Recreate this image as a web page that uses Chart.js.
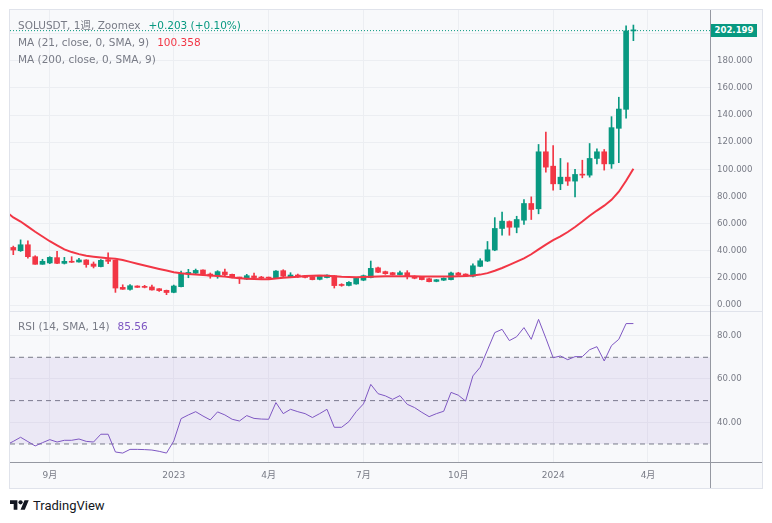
<!DOCTYPE html>
<html><head><meta charset="utf-8">
<script src="https://cdn.jsdelivr.net/npm/chart.js@4.4.1/dist/chart.umd.min.js"></script>
<style>
html,body{margin:0;padding:0;background:#fff;width:772px;height:523px;overflow:hidden;font-family:"DejaVu Sans","Noto Sans CJK JP",sans-serif;}
.abs{position:absolute;}
#frame{left:9px;top:9px;width:752px;height:478px;border:1px solid #E0E3EB;background:#F8F9FB;}
canvas{position:absolute;left:10px;}
.leg{position:absolute;left:18px;font-size:10.5px;line-height:14px;color:#787B86;white-space:nowrap;}
.leg .v{margin-left:8px;}
#badge{left:711px;top:24px;width:46px;height:13px;background:#089981;color:#fff;font-size:8.6px;font-weight:bold;line-height:13px;text-align:center;}
#tv{left:10px;top:497px;height:16px;display:flex;align-items:center;gap:4px;}
</style></head>
<body>
<div id="frame" class="abs"></div>
<canvas id="price" width="752" height="301" style="top:10px;width:752px;height:301px"></canvas>
<canvas id="rsi" width="752" height="176" style="top:312px;width:752px;height:176px"></canvas>
<div class="abs" style="left:10px;top:311px;width:752px;height:1px;background:#E0E3EB"></div>
<div class="abs" style="left:10px;top:462px;width:752px;height:1px;background:#9598A1"></div>
<div class="abs" style="left:710px;top:10px;width:1px;height:478px;background:#9598A1"></div>
<div class="leg" style="top:18px"><span>SOLUSDT, 1週, Zoomex</span><span class="v" id="chg" style="color:#089981"></span></div>
<div class="leg" style="top:35px"><span>MA (21, close, 0, SMA, 9)</span><span class="v" id="maVal" style="color:#F23645"></span></div>
<div class="leg" style="top:52px"><span>MA (200, close, 0, SMA, 9)</span></div>
<div class="leg" style="top:319px"><span>RSI (14, SMA, 14)</span><span class="v" id="rsiVal" style="color:#7E57C2"></span></div>
<div id="badge" class="abs"></div>
<div id="tv" class="abs"><svg width="19" height="14" viewBox="0 0 36 26"><path fill="#131722" d="M14 22H7V11H0V4h14v18zM28 22h-8l7.5-18h8L28 22z"/><circle fill="#131722" cx="20" cy="8" r="4"/></svg><span style="font:13px Roboto,sans-serif;color:#131722">TradingView</span></div>
<script>
// ---- data (weekly SOLUSDT) ----
const weeks = [
 '2022-07-25','2022-08-01','2022-08-08','2022-08-15','2022-08-22','2022-08-29','2022-09-05','2022-09-12','2022-09-19','2022-09-26',
 '2022-10-03','2022-10-10','2022-10-17','2022-10-24','2022-10-31','2022-11-07','2022-11-14','2022-11-21','2022-11-28','2022-12-05',
 '2022-12-12','2022-12-19','2022-12-26','2023-01-02','2023-01-09','2023-01-16','2023-01-23','2023-01-30','2023-02-06','2023-02-13',
 '2023-02-20','2023-02-27','2023-03-06','2023-03-13','2023-03-20','2023-03-27','2023-04-03','2023-04-10','2023-04-17','2023-04-24',
 '2023-05-01','2023-05-08','2023-05-15','2023-05-22','2023-05-29','2023-06-05','2023-06-12','2023-06-19','2023-06-26','2023-07-03',
 '2023-07-10','2023-07-17','2023-07-24','2023-07-31','2023-08-07','2023-08-14','2023-08-21','2023-08-28','2023-09-04','2023-09-11',
 '2023-09-18','2023-09-25','2023-10-02','2023-10-09','2023-10-16','2023-10-23','2023-10-30','2023-11-06','2023-11-13','2023-11-20',
 '2023-11-27','2023-12-04','2023-12-11','2023-12-18','2023-12-25','2024-01-01','2024-01-08','2024-01-15','2024-01-22','2024-01-29',
 '2024-02-05','2024-02-12','2024-02-19','2024-02-26','2024-03-04','2024-03-11','2024-03-18'];
const open = [null,
 42.4,40.0,44.4,35.6,30.0,31.0,34.9,30.7,32.0,31.7,
 33.2,30.2,28.3,33.4,32.9,13.0,11.5,14.0,13.5,13.3,
 12.0,10.8,9.3,13.5,22.8,23.5,25.8,22.8,21.4,24.3,
 22.6,20.4,19.2,21.4,20.6,20.2,19.8,25.3,20.8,22.1,
 21.4,20.9,18.9,20.2,21.5,15.0,14.4,15.5,18.3,20.2,
 27.4,24.6,23.8,22.4,23.8,21.1,20.8,19.4,17.4,18.3,
 18.7,23.6,22.8,21.2,28.5,32.4,40.5,56.4,61.5,57.3,
 62.5,74.8,70.9,112.9,102.3,89.3,94.2,91.3,96.4,95.7,
 108.0,112.9,104.0,130.2,144.2,202.0];
const high = [null,
 43.4,48.0,47.3,36.3,33.7,35.6,39.5,35.1,35.6,34.4,
 33.4,31.7,33.4,38.5,33.2,14.9,15.0,14.2,14.5,14.7,
 12.1,11.0,14.7,25.0,26.3,26.5,26.0,23.6,25.3,26.5,
 22.8,20.5,22.6,23.6,21.1,20.6,25.3,26.0,23.8,22.8,
 21.8,21.0,21.8,22.3,21.8,15.7,17.2,20.4,22.1,32.4,
 28.0,25.0,24.1,25.0,25.3,21.5,21.0,19.9,18.8,20.0,
 24.3,24.1,23.0,30.3,34.1,46.8,64.4,68.4,62.0,65.4,
 77.7,79.7,118.3,127.4,117.5,108.0,104.8,99.9,106.7,119.0,
 115.1,114.6,138.8,153.1,205.8,206.3];
const low = [null,
 37.1,39.5,34.6,30.0,30.0,30.5,30.5,30.2,31.3,31.5,
 27.8,27.3,28.0,30.5,9.3,11.5,11.0,12.9,12.6,11.0,
 10.0,7.6,9.0,13.4,20.1,22.8,22.3,19.7,19.7,21.4,
 20.0,15.8,18.7,20.0,19.3,19.0,19.7,20.9,20.1,20.3,
 20.0,18.5,18.5,20.0,12.5,13.8,14.0,15.3,17.9,20.0,
 23.8,22.6,22.1,22.1,19.2,19.3,18.5,17.0,17.1,18.0,
 18.5,21.8,21.0,20.7,28.2,32.0,40.0,51.4,51.4,53.2,
 59.3,63.0,67.2,97.9,84.6,85.0,88.1,79.7,93.7,94.2,
 104.0,99.4,100.7,104.9,137.6,194.8];
const close = [null,
 40.5,44.4,35.6,30.0,32.2,35.1,30.7,32.2,31.5,33.2,
 29.8,28.5,32.9,32.2,12.5,11.6,14.2,13.0,13.0,11.1,
 10.6,9.2,14.0,23.3,24.0,25.5,22.6,21.4,24.6,22.4,
 20.1,19.9,21.6,20.2,19.8,19.8,25.0,21.2,22.1,20.8,
 20.3,18.7,21.5,22.0,14.3,14.4,16.7,19.6,21.6,27.0,
 24.1,23.1,22.4,23.8,20.9,19.7,18.7,17.2,18.6,19.7,
 23.6,22.1,21.2,28.9,32.6,40.7,56.4,61.8,57.3,63.0,
 74.8,70.4,112.9,101.6,89.3,94.2,91.3,96.2,95.7,108.0,
 112.9,104.0,130.7,144.4,201.996,202.199];
const ma21 = [69.0,
 64.5,61.5,57.8,54.0,50.5,47.0,44.0,41.0,39.0,37.5,
 36.3,35.6,35.0,34.5,34.0,33.2,31.8,30.4,29.1,27.8,
 26.6,25.4,24.2,23.4,22.8,22.4,22.1,21.8,21.4,21.0,
 20.3,19.7,19.4,19.1,18.9,19.0,19.6,20.1,20.5,20.9,
 21.3,21.6,21.7,21.6,21.2,20.8,20.6,20.5,20.6,20.8,
 21.0,21.1,21.1,21.1,21.1,21.1,21.0,21.0,21.0,21.0,
 21.0,21.1,21.3,21.7,22.4,23.5,25.2,27.3,29.6,32.0,
 34.4,37.4,41.0,44.5,47.8,50.5,53.8,57.5,61.5,65.8,
 69.6,73.2,77.5,83.5,91.5,100.358];
const rsi14 = [29.5,
 31.2,33.1,31.1,29.1,30.6,32.0,30.9,31.7,31.7,32.3,
 31.2,30.9,34.5,34.5,26.3,25.8,27.5,27.5,27.4,27.2,
 26.6,25.8,31.4,41.7,43.4,44.9,42.9,41.1,44.8,43.4,
 41.4,40.6,43.1,41.8,41.5,41.4,49.1,44.0,46.0,44.9,
 44.0,42.2,44.0,46.0,37.7,37.7,40.3,44.9,48.5,57.5,
 53.2,52.2,50.6,52.3,48.3,46.8,44.6,42.6,44.0,45.1,
 53.8,52.5,49.8,61.4,65.4,73.4,81.4,82.9,77.7,79.5,
 83.7,78.3,87.5,78.8,69.8,70.6,68.9,70.3,70.3,73.5,
 74.9,68.3,75.4,78.3,85.56,85.56];
const priceTicks = [0,20,40,60,80,100,120,140,160,180,200];
const rsiTicks = [40,60,80];
const rsiLevels = [70,50,30];
const timeTickDates = ['2022-09-05','2023-01-02','2023-04-03','2023-07-03','2023-10-02','2024-01-01','2024-04-01'];
const timeTickLabels = ['9月','2023','4月','7月','10月','2024','4月'];

// ---- build ----
const UP='#089981', DN='#F23645', PURPLE='#7E57C2', GRID='#ECEEF2', TXT='#787B86';
const X_MIN=0.548, X_MAX=96.5;
Chart.defaults.font.family='"DejaVu Sans","Noto Sans CJK JP",sans-serif';
const t0=Date.parse(weeks[0]);
const wk=d=>(Date.parse(d)-t0)/(7*86400000);
const xIdx=weeks.map(wk);
const tickPos=timeTickDates.map(wk);
const candles=xIdx.map((x,i)=>open[i]==null?null:{x,o:open[i],h:high[i],l:low[i],c:close[i]}).filter(Boolean);
const bodyData=candles.map(k=>({x:k.x,y:[k.o,k.c],up:k.c>=k.o}));
const wickData=candles.map(k=>({x:k.x,y:[k.l,k.h],up:k.c>=k.o}));
const maData=xIdx.map((x,i)=>({x,y:ma21[i]}));
const rsiData=xIdx.map((x,i)=>({x,y:rsi14[i]}));
const n=close.length;
const last=close[n-1], prev=close[n-2];
document.getElementById('chg').textContent=(last-prev>=0?'+':'')+(last-prev).toFixed(3)+' ('+(last-prev>=0?'+':'')+((last-prev)/prev*100).toFixed(2)+'%)';
document.getElementById('maVal').textContent=ma21[ma21.length-1].toFixed(3);
document.getElementById('rsiVal').textContent=rsi14[rsi14.length-1].toFixed(2);
document.getElementById('badge').textContent=last.toFixed(3);
const colorOf=c=>c.raw&&c.raw.up?UP:DN;

const common={responsive:false,animation:false,devicePixelRatio:1,events:[],layout:{padding:0},
  plugins:{legend:{display:false},tooltip:{enabled:false}}};

new Chart(document.getElementById('price'),{
  type:'bar',
  data:{datasets:[
    {type:'line',data:maData,borderColor:DN,borderWidth:2,pointRadius:0,order:0},
    {type:'bar',data:bodyData,backgroundColor:colorOf,barThickness:5,minBarLength:1,grouped:false,order:1},
    {type:'bar',data:wickData,backgroundColor:colorOf,barThickness:1,minBarLength:1,grouped:false,order:2},
    {type:'line',data:[{x:X_MIN,y:last},{x:X_MAX,y:last}],borderColor:UP,borderWidth:1,borderDash:[1,2],pointRadius:0,order:3}
  ]},
  options:Object.assign({},common,{scales:{
    x:{type:'linear',min:X_MIN,max:X_MAX,bounds:'data',offset:false,
       grid:{color:GRID,offset:false,drawTicks:false},border:{display:false},ticks:{display:false},
       afterBuildTicks:s=>{s.ticks=tickPos.map(v=>({value:v}));},
       afterFit:s=>{s.height=0;s.paddingLeft=0;s.paddingRight=0;}},
    y:{type:'linear',position:'right',min:-4.42,max:217.39,bounds:'data',
       grid:{color:GRID,drawTicks:false},border:{display:false},
       ticks:{padding:7,color:TXT,font:{size:8.6},callback:v=>v===200?'':Number(v).toFixed(3)},
       afterBuildTicks:s=>{s.ticks=priceTicks.map(v=>({value:v}));},
       afterFit:s=>{s.width=52;s.paddingTop=0;s.paddingBottom=0;}}
  }})
});

const levelSets=rsiLevels.map((lv,k)=>({type:'line',data:[{x:X_MIN,y:lv},{x:X_MAX,y:lv}],
  borderColor:TXT,borderWidth:1,borderDash:[5,4],pointRadius:0,order:1+k,
  fill:k===0?{value:rsiLevels[rsiLevels.length-1]}:false,backgroundColor:'rgba(126,87,194,0.1)'}));

new Chart(document.getElementById('rsi'),{
  type:'line',
  data:{datasets:[{data:rsiData,borderColor:PURPLE,borderWidth:1,pointRadius:0,order:0,fill:false}].concat(levelSets)},
  options:Object.assign({},common,{scales:{
    x:{type:'linear',min:X_MIN,max:X_MAX,bounds:'data',offset:false,
       grid:{color:GRID,offset:false,drawTicks:false},border:{display:false},
       ticks:{padding:8,color:TXT,font:{size:9},autoSkip:false,maxRotation:0,callback:(v,i)=>timeTickLabels[i]},
       afterBuildTicks:s=>{s.ticks=tickPos.map(v=>({value:v}));},
       afterFit:s=>{s.height=26;s.paddingLeft=0;s.paddingRight=0;}},
    y:{type:'linear',position:'right',min:21.68,max:90.9,bounds:'data',
       grid:{color:GRID,drawTicks:false},border:{display:false},
       ticks:{padding:7,color:TXT,font:{size:8.6},callback:v=>Number(v).toFixed(2)},
       afterBuildTicks:s=>{s.ticks=rsiTicks.map(v=>({value:v}));},
       afterFit:s=>{s.width=52;s.paddingTop=0;s.paddingBottom=0;}}
  }})
});
</script>
</body></html>
